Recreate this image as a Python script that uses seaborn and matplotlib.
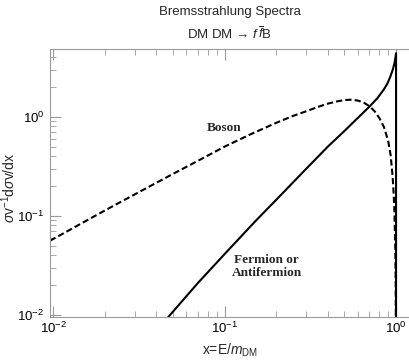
import matplotlib
matplotlib.use("Agg")
import matplotlib.pyplot as plt
import seaborn as sns
import pandas as pd
from matplotlib.ticker import LogLocator, NullFormatter

# data (x = E/m_DM)
fermion_x = [0.047, 0.07, 0.1, 0.15, 0.2, 0.3, 0.4, 0.5, 0.6, 0.7, 0.78, 0.85,
             0.893, 0.93, 0.96, 0.98, 0.99, 1.0, 1.0]
fermion_y = [0.0095, 0.021, 0.041, 0.087, 0.145, 0.30, 0.50, 0.72, 0.98, 1.27, 1.55, 1.9,
             2.19, 2.6, 3.05, 3.5, 3.9, 4.4, 0.001]

boson_x = [0.0096, 0.02, 0.03, 0.05, 0.07, 0.1, 0.14, 0.2, 0.25, 0.3, 0.35, 0.4, 0.45,
           0.5, 0.55, 0.6, 0.65, 0.7, 0.75, 0.8, 0.85, 0.9, 0.93, 0.955, 0.97, 0.98,
           0.99, 0.995, 0.999]
boson_y = [0.056, 0.113, 0.165, 0.265, 0.36, 0.5, 0.66, 0.87, 1.02, 1.14, 1.26, 1.36, 1.43,
           1.48, 1.49, 1.46, 1.39, 1.28, 1.14, 0.97, 0.79, 0.57, 0.41, 0.25, 0.16, 0.1,
           0.045, 0.02, 0.004]

title = "Bremsstrahlung Spectra"
subtitle = r"DM DM → $f\,\overline{f}$B"

sns.set_style("ticks")
plt.rcParams['font.family'] = ['Liberation Sans', 'DejaVu Sans']
plt.rcParams['mathtext.fontset'] = 'custom'
plt.rcParams['mathtext.rm'] = 'Liberation Sans'
plt.rcParams['mathtext.it'] = 'Liberation Sans:italic'
plt.rcParams['mathtext.sf'] = 'Liberation Sans'

GREY = "#9a9a9a"

fig = plt.figure(figsize=(4.09, 3.61), dpi=100)
ax = fig.add_axes([50 / 409, 1 - 317 / 361, 1 - 50 / 409, (317 - 49) / 361])
ax.set_xscale("log")
ax.set_yscale("log")

df_f = pd.DataFrame({"x": fermion_x, "y": fermion_y})
df_b = pd.DataFrame({"x": boson_x, "y": boson_y})

sns.lineplot(data=df_f, x="x", y="y", ax=ax, color="black", lw=1.5,
             sort=False, estimator=None)
sns.lineplot(data=df_b, x="x", y="y", ax=ax, color="black", lw=1.5,
             sort=False, estimator=None, linestyle=(0, (3, 1.5)))

ax.set_xlim(0.0096, 1.19)
ax.set_ylim(0.0095, 4.85)

# frame: grey, no right edge visible
for side in ["left", "bottom", "top"]:
    ax.spines[side].set_color(GREY)
    ax.spines[side].set_linewidth(0.8)
ax.spines["right"].set_visible(False)

ax.xaxis.set_major_locator(LogLocator(base=10, numticks=10))
ax.xaxis.set_minor_locator(LogLocator(base=10, subs=range(2, 10), numticks=10))
ax.yaxis.set_major_locator(LogLocator(base=10, numticks=10))
ax.yaxis.set_minor_locator(LogLocator(base=10, subs=range(2, 10), numticks=10))
ax.xaxis.set_minor_formatter(NullFormatter())
ax.yaxis.set_minor_formatter(NullFormatter())

ax.tick_params(which="both", direction="in", color=GREY, top=True, right=False,
               labelsize=9.5, labelcolor="black")
ax.tick_params(which="major", length=8, width=0.8)
ax.tick_params(axis="x", which="major", pad=3)
ax.tick_params(axis="y", which="major", pad=4)
ax.tick_params(which="minor", length=4, width=0.6)

ax.set_xlabel(r"x=E/$m_{\rm DM}$", fontsize=10, va="center")
ax.xaxis.set_label_coords(0.5, (317 - 350) / 268)
ax.set_ylabel(r"$\sigma$v$^{-1}$d$\sigma$v/dx", fontsize=10, va="center")
ax.yaxis.set_label_coords((9 - 50) / 359, (317 - 188) / 268)

ax.text(0.1, 0.77, "Boson", fontsize=9.5, fontweight="bold",
        family="Liberation Serif", ha="center", va="center")
ax.text(0.176, 0.031, "Fermion or\nAntifermion", fontsize=9.5, fontweight="bold",
        family="Liberation Serif", ha="center", va="center", linespacing=1.1)

fig.text(229.5 / 409, 1 - 12 / 361, title, fontsize=9.5, ha="center", va="center")
fig.text(229.5 / 409, 1 - 34 / 361, subtitle, fontsize=9.5, ha="center", va="center")

fig.savefig("out.png", dpi=100)
